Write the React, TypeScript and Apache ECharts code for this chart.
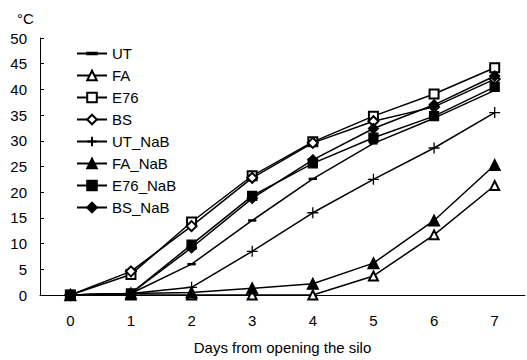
import React, { useEffect, useRef } from "react";
import * as echarts from "echarts";

const days = ["0", "1", "2", "3", "4", "5", "6", "7"];
const seriesNames = ["UT", "FA", "E76", "BS", "UT_NaB", "FA_NaB", "E76_NaB", "BS_NaB"];
const UT = [0, 0.3, 6, 14.5, 22.6, 29.5, 34.4, 39.8];
const FA = [0, 0, 0, 0, 0, 3.7, 11.7, 21.3];
const E76 = [0, 4, 14.2, 23.2, 29.8, 34.8, 39.1, 44.2];
const BS = [0, 4.6, 13.4, 22.8, 29.6, 33.8, 36.6, 42];
const UT_NaB = [0, 0.3, 1.5, 8.5, 16, 22.5, 28.6, 35.5];
const FA_NaB = [0, 0.3, 0.5, 1.3, 2.2, 6.2, 14.5, 25.3];
const E76_NaB = [0, 0.3, 9.8, 19.3, 25.6, 30.6, 34.8, 40.5];
const BS_NaB = [0, 0.3, 9.2, 18.8, 26.3, 32.4, 37, 42.6];
const yTicks = { min: 0, max: 50, interval: 5 };

const dashPath = "path://M5,0L5,0M0,4.2H10V5.8H0ZM5,10L5,10";
const plusPath = "path://M5,0L5,10M0,5L10,5";

const styles: Record<string, { symbol: string; size: number }> = {
  UT: { symbol: dashPath, size: 7 },
  FA: { symbol: "emptyTriangle", size: 9 },
  E76: { symbol: "emptyRect", size: 9 },
  BS: { symbol: "emptyDiamond", size: 10 },
  UT_NaB: { symbol: plusPath, size: 11 },
  FA_NaB: { symbol: "triangle", size: 11 },
  E76_NaB: { symbol: "rect", size: 9 },
  BS_NaB: { symbol: "diamond", size: 10 },
};

const values: Record<string, number[]> = { UT, FA, E76, BS, UT_NaB, FA_NaB, E76_NaB, BS_NaB };

export default function App() {
  const ref = useRef<HTMLDivElement>(null);
  useEffect(() => {
    if (!ref.current) return;
    const chart = echarts.init(ref.current, undefined, { renderer: "svg" });
    const font = "Liberation Sans, Arial, sans-serif";
    chart.setOption({
      animation: false,
      backgroundColor: "#fff",
      textStyle: { fontFamily: font },
      grid: { left: 40, right: 2, top: 38, bottom: 62 },
      legend: {
        orient: "vertical",
        left: 76,
        top: 46,
        padding: 0,
        itemWidth: 30,
        itemHeight: 12,
        itemGap: 7,
        textStyle: { fontFamily: font, fontSize: 15, color: "#000" },
        data: seriesNames,
      },
      graphic: [
        {
          type: "text",
          left: 17,
          top: 11,
          style: { text: "°C", font: "15px Liberation Sans, Arial, sans-serif", fill: "#000" },
        },
      ],
      xAxis: {
        type: "category",
        data: days,
        boundaryGap: true,
        name: "Days from opening the silo",
        nameLocation: "middle",
        nameGap: 45,
        nameTextStyle: { fontFamily: font, fontSize: 15, color: "#000" },
        axisLine: { lineStyle: { color: "#000", width: 1 } },
        axisTick: { show: false },
        axisLabel: { fontFamily: font, fontSize: 15, color: "#000", margin: 18 },
        splitLine: { show: false },
      },
      yAxis: {
        type: "value",
        min: yTicks.min,
        max: yTicks.max,
        interval: yTicks.interval,
        axisLine: { show: true, lineStyle: { color: "#000", width: 1 } },
        axisTick: { show: true, inside: true, length: 4, lineStyle: { color: "#000" } },
        axisLabel: { fontFamily: font, fontSize: 15, color: "#000", margin: 13 },
        splitLine: { show: false },
      },
      series: seriesNames.map((n) => ({
        name: n,
        type: "line",
        data: values[n],
        symbol: styles[n].symbol,
        symbolSize: styles[n].size,
        showSymbol: true,
        lineStyle: { color: "#000", width: 1.5 },
        itemStyle: { color: "#000", borderColor: "#000", borderWidth: 1.3 },
        emphasis: { disabled: true },
      })),
    });
    return () => chart.dispose();
  }, []);
  return (
    <div
      ref={ref}
      style={{ position: "absolute", left: 0, top: 0, width: 527, height: 360 }}
    />
  );
}
